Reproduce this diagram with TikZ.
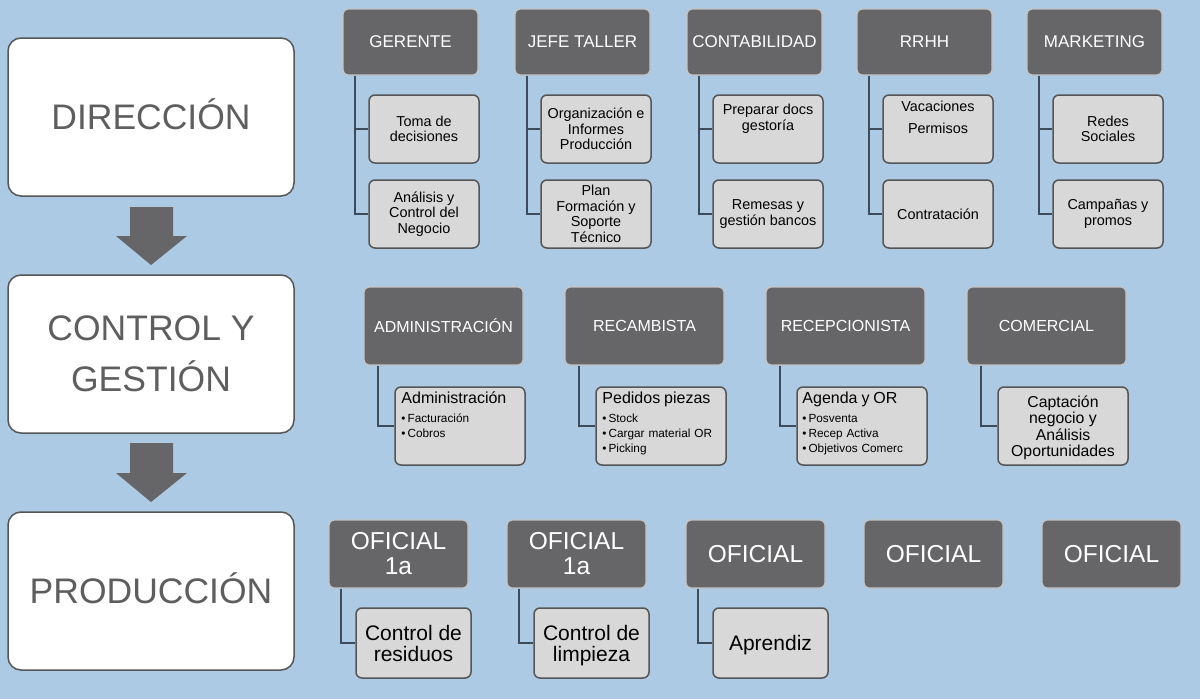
\documentclass[tikz,border=0pt]{standalone}
\usepackage{fontspec}
\setmainfont{Liberation Sans}
\definecolor{bg}{HTML}{ADCAE4}
\definecolor{headfill}{HTML}{666668}
\definecolor{headline}{HTML}{C4C4C4}
\definecolor{subfill}{HTML}{D8D8D8}
\definecolor{subline}{HTML}{555555}
\definecolor{conncol}{HTML}{3E4B5B}
\definecolor{leveltext}{HTML}{5E5E5E}
\definecolor{arrowcol}{HTML}{666668}
\begin{document}
\begin{tikzpicture}[x=1pt,y=-1pt,
  levelbox/.style={draw=subline, line width=1.5pt, fill=white, rounded corners=13pt,
    minimum width=286pt, minimum height=158pt, inner sep=0pt, text=leveltext,
    font=\fontsize{35.5}{51}\selectfont, align=center},
  oneline/.style={text height=25.4pt, text depth=0pt},
  headbox/.style={draw=headline, line width=1.2pt, fill=headfill, rounded corners=5pt,
    inner sep=0pt, text=white, align=center},
  tophead/.style={headbox, minimum width=135pt, minimum height=66pt, font=\fontsize{17}{19}\selectfont},
  midhead/.style={headbox, minimum width=159pt, minimum height=78pt, font=\fontsize{16}{18}\selectfont},
  bothead/.style={headbox, minimum width=139pt, minimum height=68pt, font=\fontsize{24.5}{25}\selectfont},
  subbox/.style={draw=subline, line width=1.5pt, fill=subfill, rounded corners=6pt,
    inner sep=0pt, text=black, align=center},
  topsub/.style={subbox, minimum width=110pt, minimum height=68pt, font=\fontsize{14.4}{15.5}\selectfont},
  midsub/.style={subbox, minimum width=130pt, minimum height=78pt},
  botsub/.style={subbox, minimum width=115pt, minimum height=70pt, text depth=0pt, font=\fontsize{21}{21}\selectfont},
  subtext/.style={inner sep=0pt, text width=122pt, align=left, anchor=north west,
    font=\fontsize{11.8}{15}\selectfont},
  conn/.style={draw=conncol, line width=2pt},
  blockarrow/.style={fill=arrowcol, draw=none}
]
\fill[bg] (0,0) rectangle (1200,699);
\useasboundingbox (0,0) rectangle (1200,699);

% level boxes
\node[levelbox, oneline] (dir) at (151,117) {DIRECCIÓN};
\node[levelbox] (cyg) at (151,354) {CONTROL Y\\GESTIÓN};
\node[levelbox, oneline] (prod) at (151,591) {PRODUCCIÓN};

% block arrows
\fill[blockarrow] (130,207) -- (173,207) -- (173,236) -- (187,236) -- (151,265) -- (116,236) -- (130,236) -- cycle;
\fill[blockarrow] (130,443) -- (173,443) -- (173,473) -- (187,473) -- (151,502) -- (116,473) -- (130,473) -- cycle;

% top row heads
\node[tophead] (ger) at (410.5,42) {GERENTE};
\node[topsub] (ger1) at (424,129) {Toma de\\decisiones};
\node[topsub] (ger2) at (424,214) {Análisis y\\Control del\\Negocio};

\node[tophead] (jef) at (582.5,42) {JEFE TALLER};
\node[topsub] (jef1) at (596,129) {Organización e\\Informes\\Producción};
\node[topsub] (jef2) at (596,214) {Plan\\Formación y\\Soporte\\Técnico};

\node[tophead] (con) at (754.5,42) {CONTABILIDAD};
\node[topsub] (con1) at (768,129) {Preparar docs\\gestoría\\[8pt]\mbox{}};
\node[topsub] (con2) at (768,214) {Remesas y\\gestión bancos};

\node[tophead] (rrh) at (924.5,42) {RRHH};
\node[topsub] (rrh1) at (938,129) {Vacaciones\\[6.5pt]Permisos\\[8pt]\mbox{}};
\node[topsub] (rrh2) at (938,214) {Contratación};

\node[tophead] (mkt) at (1094.5,42) {MARKETING};
\node[topsub] (mkt1) at (1108,129) {Redes\\Sociales};
\node[topsub] (mkt2) at (1108,214) {Campañas y\\promos};

\foreach \h in {ger,jef,con,rrh,mkt}{
  \draw[conn] ([xshift=13pt]\h.south west) |- (\h1.west);
  \draw[conn] ([xshift=13pt]\h.south west) |- (\h2.west);
}

% middle row
\node[midhead] (adm) at (443.5,326) {ADMINISTRACIÓN};
\node[midsub] (adm1) at (460,426) {};
\node[subtext] (adm1t) at ([shift={(7,5)}]adm1.north west)
  {{\fontsize{16}{19}\selectfont Administración\par}\vspace{4pt}•\,Facturación\par •\,Cobros\par};

\node[midhead] (rec) at (644.5,326) {RECAMBISTA};
\node[midsub] (rec1) at (661,426) {};
\node[subtext] (rec1t) at ([shift={(7,5)}]rec1.north west)
  {{\fontsize{16}{19}\selectfont Pedidos piezas\par}\vspace{4pt}•\,Stock\par •\,Cargar material OR\par •\,Picking\par};

\node[midhead] (rcp) at (845.5,326) {RECEPCIONISTA};
\node[midsub] (rcp1) at (862,426) {};
\node[subtext] (rcp1t) at ([shift={(6,5)}]rcp1.north west)
  {{\fontsize{16}{19}\selectfont Agenda y OR\par}\vspace{4pt}•\,Posventa\par •\,Recep Activa\par •\,Objetivos Comerc\par};

\node[midhead] (com) at (1046.5,326) {COMERCIAL};
\node[midsub, text depth=0pt, font=\fontsize{15.8}{16.5}\selectfont] (com1) at (1063,426) {Captación\\negocio y\\Análisis\\Oportunidades};

\foreach \h in {adm,rec,rcp,com}{
  \draw[conn] ([xshift=15pt]\h.south west) |- (\h1.west);
}

% bottom row
\node[bothead] (of1) at (398.5,554) {OFICIAL\\1a};
\node[botsub] (of11) at (413.5,643) {Control de\\residuos};
\node[bothead] (of2) at (576.5,554) {OFICIAL\\1a};
\node[botsub] (of21) at (591.5,643) {Control de\\limpieza};
\node[bothead] (of3) at (755.5,554) {OFICIAL};
\node[botsub] (of31) at (770.5,643) {Aprendiz};
\node[bothead] (of4) at (933.5,554) {OFICIAL};
\node[bothead] (of5) at (1111.5,554) {OFICIAL};

\foreach \h in {of1,of2,of3}{
  \draw[conn] ([xshift=13pt]\h.south west) |- (\h1.west);
}
\end{tikzpicture}
\end{document}
